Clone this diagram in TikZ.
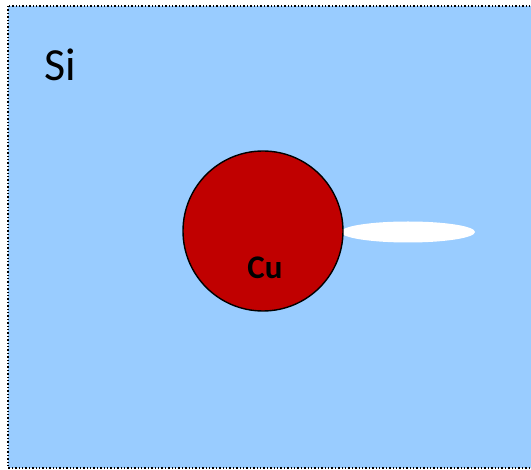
\documentclass[tikz,border=0pt]{standalone}
\usepackage{fontspec}
\setmainfont{Carlito}
\usepackage{xcolor}
\usetikzlibrary{shapes.geometric,positioning}
\definecolor{siblue}{HTML}{99CCFF}
\definecolor{cured}{HTML}{C00000}
\tikzset{
  wafer/.style={draw=black, fill=siblue, line width=1.6pt, dash pattern=on 1.4pt off 2pt},
  atom/.style={circle, draw=black, line width=1.4pt, fill=cured, minimum size=160pt, inner sep=0pt},
  crack/.style={ellipse, fill=white, minimum width=134pt, minimum height=21pt, inner sep=0pt},
  sitext/.style={font=\fontsize{46}{48}\selectfont, text=black},
  cutext/.style={font=\bfseries\fontsize{33}{36}\selectfont, text=black}
}
\begin{document}
\begin{tikzpicture}[x=1pt, y=-1pt]
  \useasboundingbox (0,0) rectangle (531,470);
  \begin{scope}
    \clip (0,0) rectangle (531,470);
    \draw[wafer] (8,6) rectangle (545,468);
  \end{scope}
  \node[sitext] (si) at (60,65) {Si};
  \node[crack] (gap) at (408,232) {};
  \node[atom] (cu) at (263,231) {};
  \node[cutext] (cu label) at (265,268) {Cu};
\end{tikzpicture}
\end{document}
